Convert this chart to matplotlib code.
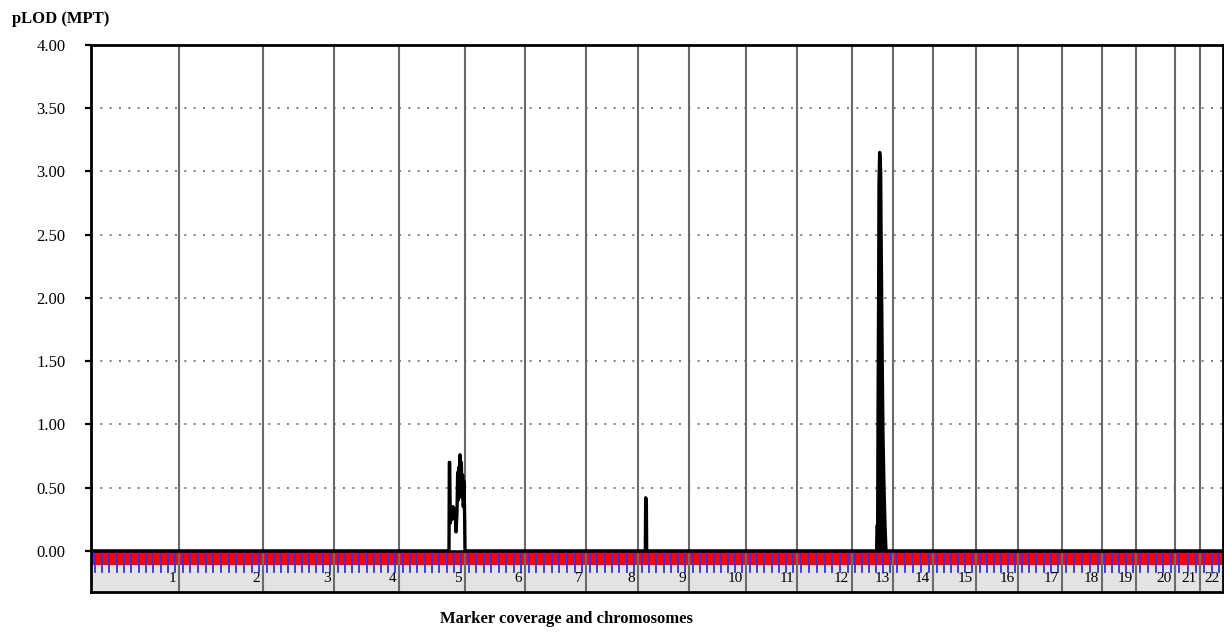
import numpy as np
import matplotlib
matplotlib.use("Agg")
import matplotlib.pyplot as plt
import matplotlib.transforms as mtransforms

plt.rcParams['font.family'] = ['Liberation Serif', 'DejaVu Serif']

# chromosome lengths (cM) and number of markers typed on each
chrom_names = [str(i) for i in range(1, 23)]
chrom_lengths = [264, 252, 213, 195, 198, 180, 183, 156, 153, 171, 153,
                 165, 123, 120, 129, 126, 132, 120, 102, 117, 75, 69]
marker_counts = [12, 11, 10, 9, 9, 8, 8, 7, 7, 8, 7,
                 7, 6, 5, 6, 6, 6, 5, 5, 5, 3, 3]

# non-zero pLOD stretches: chromosome -> (position in cM, pLOD)
chr5_pos = [150, 151, 152, 154, 156, 159, 162, 165, 168, 171, 174, 176,
            177, 179, 181, 183, 185, 187, 189, 191, 193, 195, 197, 198]
chr5_lod = [0.0, 0.70, 0.70, 0.22, 0.33, 0.25, 0.35, 0.28, 0.33, 0.15, 0.30, 0.62,
            0.40, 0.66, 0.45, 0.76, 0.50, 0.70, 0.42, 0.60, 0.35, 0.55, 0.25, 0.0]
chr9_pos = [22, 23, 25, 26]
chr9_lod = [0.0, 0.42, 0.40, 0.0]
chr13_pos = [74, 75, 77, 78, 80, 81, 83, 84, 86, 87, 89, 91, 93, 96, 99, 102]
chr13_lod = [0.0, 0.2, 0.2, 1.0, 2.1, 2.9, 3.15, 3.12, 3.0, 2.6, 2.0, 1.4, 0.9, 0.5, 0.2, 0.0]

peaks = {5: (chr5_pos, chr5_lod), 9: (chr9_pos, chr9_lod), 13: (chr13_pos, chr13_lod)}

y_ticks = [0.0, 0.5, 1.0, 1.5, 2.0, 2.5, 3.0, 3.5, 4.0]

starts = np.concatenate([[0], np.cumsum(chrom_lengths)[:-1]])
total = sum(chrom_lengths)

# genome-wide pLOD trace
xs, ys = [0.0], [0.0]
for chrom in sorted(peaks):
    pos, lod = peaks[chrom]
    xs += [starts[chrom - 1] + p for p in pos]
    ys += list(lod)
xs.append(total)
ys.append(0.0)

fig = plt.figure(figsize=(12.24, 6.34), dpi=100)
ax = fig.add_axes([91 / 1224, 1 - 592 / 634, 1132 / 1224, 547 / 634])
ax.set_xlim(0, total)
ax.set_ylim(-0.325, 4.0)

# marker coverage strip
ax.axhspan(-0.325, -0.11, color='#e3e3e3', lw=0, zorder=0)
ax.axhspan(-0.11, 0, color='#ff0000', lw=0, zorder=1)
for s, L, n in zip(starts, chrom_lengths, marker_counts):
    for k in range(n):
        m = s + (k + 0.5) * L / n
        ax.plot([m, m], [0, -0.165], color='#3030f0', lw=1.3, zorder=2)

# dotted horizontal grid
for yv in y_ticks[1:-1]:
    ax.axhline(yv, color='#7a7a7a', lw=1.4, dashes=(1, 3.8), zorder=1)

# chromosome boundaries
for b in list(starts[1:]):
    ax.axvline(b, color='#6a6a6a', lw=1.5, zorder=3)

ax.axhline(0, color='black', lw=1.8, zorder=4)
# the chr13 peak is dense enough to render solid
x13 = [starts[12] + p for p in chr13_pos]
ax.fill_between(x13, chr13_lod, 0, color='black', lw=0, zorder=5)
ax.plot(xs, ys, color='black', lw=2.4, zorder=5)

# chromosome labels at the right end of each chromosome
shift = mtransforms.ScaledTranslation(-3 / 100, 0, fig.dpi_scale_trans)
for name, s, L in zip(chrom_names, starts, chrom_lengths):
    ax.text(s + L, -0.215, name, ha='right', va='center', fontsize=11,
            transform=ax.transData + shift, zorder=6)

ax.set_xticks([])
ax.set_yticks(y_ticks)
ax.set_yticklabels(['%.2f' % v for v in y_ticks], fontsize=12)
ax.tick_params(axis='y', direction='out', length=4.5, width=1.6, pad=14)
for side in ['left', 'top', 'right', 'bottom']:
    ax.spines[side].set_linewidth(2)
    ax.spines[side].set_zorder(7)

fig.text(12 / 1224, 1 - 19 / 634, 'pLOD (MPT)', fontsize=12, fontweight='bold',
         ha='left', va='center')
fig.text(566 / 1224, 1 - 619 / 634, 'Marker coverage and chromosomes', fontsize=12,
         fontweight='bold', ha='center', va='center')

fig.savefig('out.png', dpi=100)
